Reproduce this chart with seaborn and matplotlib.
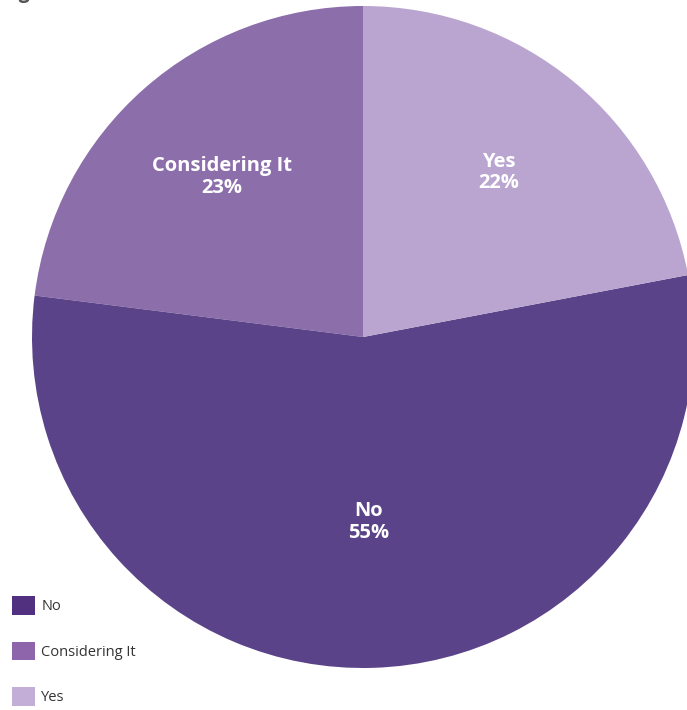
import matplotlib
matplotlib.use("Agg")
import matplotlib.pyplot as plt
import matplotlib.patches as mpatches
import seaborn as sns
import numpy as np

sns.set_theme(style="white")
plt.rcParams["font.family"] = ["Open Sans", "DejaVu Sans"]

# Survey answers, drawn counter-clockwise from 12 o'clock
categories = ["Considering It", "No", "Yes"]
shares = [23, 55, 22]
slice_colors = ["#8C6EAB", "#5B4389", "#B9A5CF"]

# Legend order and swatch colours
legend_labels = ["No", "Considering It", "Yes"]
legend_colors = ["#51317F", "#8E64AA", "#C3AED8"]

W, H = 687, 710
fig = plt.figure(figsize=(W / 100, H / 100), dpi=100)
fig.patch.set_facecolor("white")

# Pie centre and radius in pixels
cx, cy, r = 363, 337, 331
ax = fig.add_axes([(cx - r) / W, (H - cy - r) / H, 2 * r / W, 2 * r / H])

wedges, texts = ax.pie(
    shares,
    colors=slice_colors,
    startangle=90,
    counterclock=True,
    radius=1.0,
    wedgeprops=dict(linewidth=0, clip_on=False),
)
ax.set_xlim(-1, 1)
ax.set_ylim(-1, 1)
ax.set_aspect("equal")
ax.axis("off")

# In-slice labels: name over percentage
label_radius = [0.645, 0.56, 0.645]
for w, name, val, rr in zip(wedges, categories, shares, label_radius):
    mid = np.deg2rad((w.theta1 + w.theta2) / 2)
    ax.text(rr * np.cos(mid), rr * np.sin(mid), f"{name}\n{val}%",
            ha="center", va="center", color="white", fontsize=14.5,
            fontweight="bold", linespacing=1.12)

# Title (sits at the very top edge)
fig.text(0.0, 1 + 2.0 / H, "ing Decisions", ha="left", va="baseline",
         fontsize=14, fontweight="bold", color="#555555")

handles = [mpatches.Patch(facecolor=c, edgecolor="none") for c in legend_colors]
leg = fig.legend(
    handles, legend_labels,
    loc="lower left", bbox_to_anchor=(12 / W, 4 / H),
    frameon=False, borderpad=0, borderaxespad=0,
    handlelength=1.6, handleheight=1.6, handletextpad=0.4,
    labelspacing=1.85,
    prop=dict(family=["Open Sans", "DejaVu Sans"], size=10.5),
)
for t in leg.get_texts():
    t.set_color("#333333")

fig.savefig("out.png", dpi=100, facecolor="white")
